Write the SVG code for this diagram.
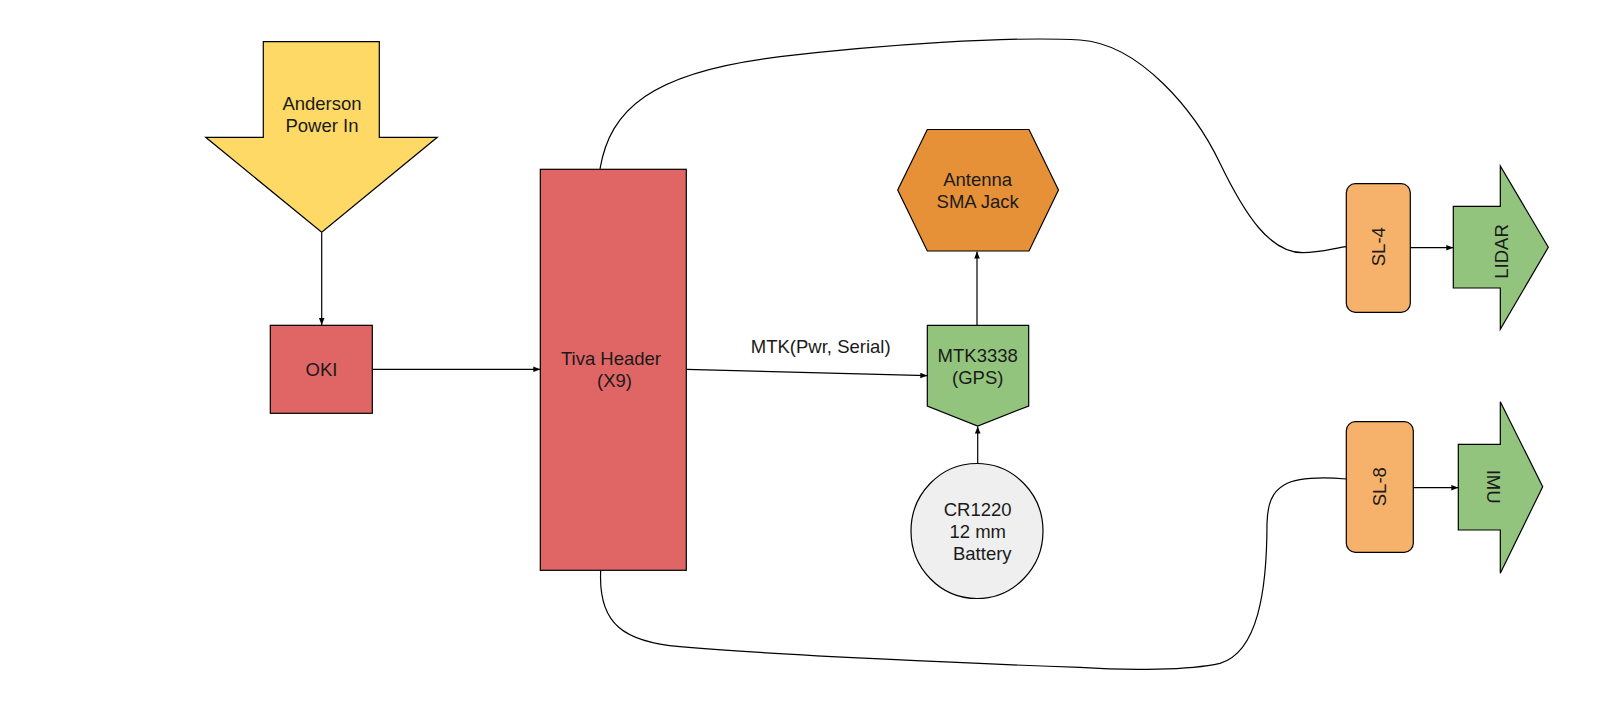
<svg xmlns="http://www.w3.org/2000/svg" width="1624" height="704" viewBox="0 0 1624 704">
<style>
.s{stroke:#000;stroke-width:1.2}
.t{font-family:"Liberation Sans",Arial,sans-serif;font-size:18.5px;fill:#1a1a1a;text-anchor:middle}
.c{fill:none;stroke:#000;stroke-width:1.2}
</style>
<defs>
<marker id="ah" viewBox="0 0 10 10" refX="10" refY="5" markerWidth="7" markerHeight="7" orient="auto" markerUnits="userSpaceOnUse">
<path d="M0,1 L10,5 L0,9 Z" fill="#000"/>
</marker>
</defs>
<rect width="1624" height="704" fill="#fff"/>
<g id="connectors">
<path class="c" d="M321.7,232.5 L321.7,325" marker-end="url(#ah)"/>
<path class="c" d="M372.3,369.3 L540.3,369.3" marker-end="url(#ah)"/>
<path class="c" d="M686.3,369.3 L927.3,375.7" marker-end="url(#ah)"/>
<path class="c" d="M977,325.3 L977,251.5" marker-end="url(#ah)"/>
<path class="c" d="M977.7,464 L977.7,426.5" marker-end="url(#ah)"/>
<path class="c" d="M1410.3,247.7 L1453.3,247.7" marker-end="url(#ah)"/>
<path class="c" d="M1413.3,487.7 L1458.3,487.7" marker-end="url(#ah)"/>
<path class="c" d="M600,168.8 C610,110 650,72 780,56.7 C880,44.9 1010,36 1080,40 C1140,44 1195,111 1220,163.3 C1245,215 1270,253 1303,252.7 C1320,252.7 1335,248 1346.3,246.7"/>
<path class="c" d="M600.7,570.7 C598,625 625,642 680,646.7 C780,655.2 980,664 1080,667.3 C1130,671 1190,670 1220,663.3 C1258,652 1267,590 1267,523.3 C1268,485 1285,474 1346.3,479"/>
</g>
<g id="anderson">
<polygon class="s" fill="#ffd966" points="263.3,41.7 379.3,41.7 379.3,137.3 437.3,137.3 321.7,232.3 205.7,137.3 263.3,137.3"/>
<text class="t" x="322" y="110">Anderson</text>
<text class="t" x="322" y="132">Power In</text>
</g>
<g id="oki">
<rect class="s" fill="#e06666" x="270.3" y="325.3" width="102" height="88"/>
<text class="t" x="321.5" y="376">OKI</text>
</g>
<g id="tiva">
<rect class="s" fill="#e06666" x="540.3" y="169.3" width="146" height="401"/>
<text class="t" x="611" y="365">Tiva Header</text>
<text class="t" x="614.5" y="387">(X9)</text>
</g>
<g id="mtk-label">
<text class="t" x="820.7" y="352.5">MTK(Pwr, Serial)</text>
</g>
<g id="antenna">
<polygon class="s" fill="#e69138" points="927.3,129.5 1029,129.5 1058.5,190 1029,251 927.3,251 897.7,190"/>
<text class="t" x="977.7" y="186">Antenna</text>
<text class="t" x="977.7" y="208.3">SMA Jack</text>
</g>
<g id="gps">
<polygon class="s" fill="#93c47d" points="927.3,325.3 1028.7,325.3 1028.7,406 977.7,426 927.3,406"/>
<text class="t" x="977.7" y="361.7">MTK3338</text>
<text class="t" x="977.7" y="384.3">(GPS)</text>
</g>
<g id="battery">
<ellipse class="s" fill="#efefef" cx="977" cy="531" rx="66" ry="67.5"/>
<text class="t" x="977.7" y="515.7">CR1220</text>
<text class="t" x="977.7" y="538.3">12 mm</text>
<text class="t" x="982.3" y="560">Battery</text>
</g>
<g id="sl4">
<rect class="s" fill="#f6b26b" x="1346.3" y="183.7" width="64" height="128.6" rx="9"/>
<text class="t" x="1379" y="253.2" transform="rotate(-90 1379 246.7)">SL-4</text>
</g>
<g id="lidar">
<polygon class="s" fill="#93c47d" points="1453.3,206.3 1500.3,206.3 1500.3,166 1548.3,247.3 1500.3,329.3 1500.3,288 1453.3,288"/>
<text class="t" x="1501" y="258" transform="rotate(-90 1501 251.5)">LIDAR</text>
</g>
<g id="sl8">
<rect class="s" fill="#f6b26b" x="1346.3" y="421.7" width="67" height="130.6" rx="9"/>
<text class="t" x="1380" y="493.2" transform="rotate(-90 1380 486.7)">SL-8</text>
</g>
<g id="imu">
<polygon class="s" fill="#93c47d" points="1458.3,444.3 1500.3,444.3 1500.3,401.7 1542.7,486.7 1500.3,573.3 1500.3,530 1458.3,530"/>
<text class="t" x="1493.3" y="493.2" transform="rotate(90 1493.3 486.7)">IMU</text>
</g>
</svg>
